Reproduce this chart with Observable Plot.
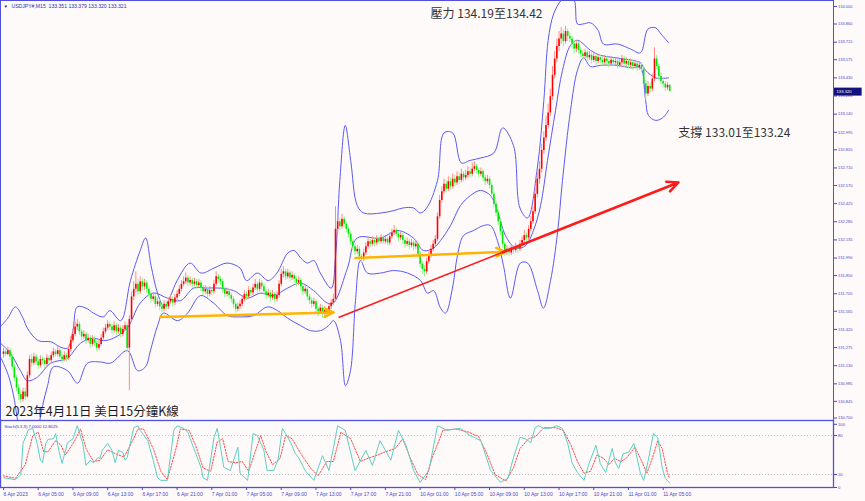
<!DOCTYPE html>
<html><head><meta charset="utf-8">
<script src="https://cdn.jsdelivr.net/npm/d3@7"></script>
<script src="https://cdn.jsdelivr.net/npm/@observablehq/plot@0.6"></script>
<style>
body{margin:0;background:#fffafa}
#chart{position:relative;width:865px;height:501px;background:#fffafa;overflow:hidden}
#chart svg{display:block}
</style></head><body><div id="chart"></div>
<script>
// ---------- DATA ----------
const firstOpen = 131.22;
const closes = [
131.24,131.22,131.25,131.20,131.12,131.03,130.95,130.90,130.86,130.92,
130.88,131.05,131.18,131.15,131.20,131.16,131.13,131.18,131.17,131.14,
131.19,131.17,131.21,131.24,131.22,131.25,131.20,131.18,131.21,131.19,
131.26,131.33,131.38,131.44,131.46,131.40,131.36,131.38,131.33,131.35,
131.30,131.34,131.31,131.27,131.30,131.35,131.40,131.43,131.46,131.44,
131.41,131.45,131.40,131.43,131.38,131.42,131.45,131.27,131.50,131.68,
131.74,131.78,131.72,131.80,131.76,131.79,131.74,131.70,131.66,131.68,
131.62,131.64,131.60,131.58,131.62,131.60,131.64,131.66,131.63,131.67,
131.70,131.74,131.78,131.80,131.83,131.79,131.81,131.78,131.80,131.77,
131.79,131.75,131.72,131.74,131.70,131.73,131.72,131.78,131.84,131.82,
131.80,131.74,131.70,131.72,131.69,131.66,131.62,131.58,131.60,131.62,
131.66,131.70,131.68,131.73,131.71,131.75,131.78,131.74,131.79,131.76,
131.72,131.69,131.71,131.67,131.70,131.66,131.69,131.78,131.86,131.88,
131.84,131.87,131.83,131.85,131.82,131.79,131.81,131.76,131.72,131.74,
131.68,131.65,131.62,131.64,131.58,131.56,131.59,131.54,131.57,131.55,
131.60,131.63,131.66,132.22,132.28,132.24,132.30,132.26,132.22,132.18,
132.12,132.08,132.04,132.06,132.00,131.98,132.03,132.08,132.12,132.10,
132.13,132.11,132.14,132.12,132.15,132.12,132.14,132.11,132.16,132.19,
132.21,132.18,132.15,132.17,132.13,132.10,132.12,132.09,132.11,132.08,
132.10,132.02,131.94,131.90,131.88,131.96,132.01,132.06,132.10,132.14,
132.32,132.45,132.52,132.58,132.54,132.60,132.56,132.62,132.59,132.64,
132.61,132.66,132.63,132.65,132.68,132.66,132.70,132.72,132.69,132.66,
132.68,132.63,132.60,132.62,132.57,132.50,132.42,132.35,132.28,132.20,
132.10,132.04,132.06,132.03,132.07,132.05,132.08,132.06,132.10,132.13,
132.17,132.15,132.22,132.28,132.36,132.50,132.62,132.70,132.85,132.95,
133.05,133.15,133.28,133.45,133.58,133.68,133.74,133.78,133.72,133.80,
133.76,133.74,133.70,133.66,133.70,133.65,133.62,133.60,133.63,133.59,
133.61,133.57,133.60,133.56,133.59,133.57,133.55,133.58,133.56,133.54,
133.57,133.55,133.56,133.53,133.55,133.58,133.54,133.56,133.53,133.55,
133.52,133.54,133.51,133.53,133.50,133.38,133.30,133.36,133.34,133.42,
133.58,133.52,133.44,133.40,133.38,133.35,133.37,133.32];
const highs = [
131.27,131.27,131.28,131.27,131.22,131.14,131.05,130.98,130.93,130.95,
130.95,131.08,131.21,131.22,131.23,131.22,131.19,131.21,131.20,131.19,
131.22,131.21,131.24,131.27,131.26,131.28,131.27,131.22,131.24,131.23,
131.29,131.36,131.42,131.48,131.50,131.48,131.42,131.41,131.40,131.38,
131.37,131.37,131.36,131.33,131.33,131.38,131.43,131.46,131.49,131.48,
131.46,131.48,131.47,131.46,131.45,131.45,131.48,131.47,131.53,131.72,
131.80,131.88,131.82,131.84,131.83,131.82,131.81,131.76,131.72,131.71,
131.70,131.67,131.66,131.62,131.65,131.64,131.67,131.69,131.68,131.70,
131.73,131.77,131.81,131.84,131.87,131.85,131.84,131.83,131.83,131.82,
131.82,131.81,131.77,131.77,131.76,131.76,131.75,131.81,131.88,131.86,
131.84,131.82,131.76,131.75,131.74,131.71,131.68,131.64,131.63,131.65,
131.69,131.73,131.72,131.76,131.75,131.78,131.82,131.80,131.82,131.81,
131.78,131.74,131.74,131.73,131.73,131.72,131.72,131.81,131.90,131.92,
131.90,131.90,131.89,131.88,131.87,131.84,131.84,131.83,131.78,131.77,
131.76,131.70,131.67,131.67,131.66,131.60,131.62,131.61,131.60,131.59,
131.63,131.66,131.70,132.40,132.33,132.31,132.34,132.32,132.28,132.24,
132.20,132.14,132.10,132.09,132.08,132.02,132.06,132.11,132.15,132.14,
132.16,132.15,132.17,132.16,132.18,132.17,132.17,132.16,132.19,132.22,
132.25,132.23,132.20,132.20,132.19,132.15,132.15,132.14,132.14,132.13,
132.13,132.12,132.04,131.96,131.93,131.99,132.04,132.09,132.13,132.17,
132.35,132.49,132.56,132.62,132.61,132.64,132.63,132.66,132.65,132.68,
132.67,132.70,132.68,132.69,132.72,132.71,132.75,132.76,132.74,132.71,
132.71,132.70,132.65,132.65,132.64,132.59,132.52,132.44,132.37,132.30,
132.22,132.12,132.09,132.08,132.10,132.09,132.11,132.10,132.13,132.16,
132.21,132.19,132.25,132.32,132.40,132.55,132.68,132.76,132.90,133.00,
133.12,133.22,133.34,133.52,133.64,133.74,133.80,133.83,133.81,133.84,
133.82,133.79,133.76,133.72,133.73,133.72,133.67,133.65,133.66,133.65,
133.64,133.63,133.63,133.62,133.62,133.61,133.59,133.61,133.60,133.58,
133.60,133.59,133.59,133.58,133.58,133.61,133.60,133.59,133.58,133.58,
133.57,133.57,133.56,133.56,133.55,133.52,133.41,133.40,133.39,133.46,
133.67,133.61,133.54,133.47,133.43,133.40,133.39,133.38];
const lows = [
131.19,131.20,131.21,131.17,131.09,131.00,130.92,130.85,130.83,130.84,
130.85,130.87,131.03,131.12,131.13,131.13,131.10,131.11,131.14,131.11,
131.12,131.15,131.15,131.19,131.20,131.20,131.18,131.15,131.16,131.16,
131.17,131.24,131.31,131.36,131.41,131.37,131.33,131.34,131.30,131.31,
131.27,131.28,131.28,131.24,131.25,131.28,131.33,131.38,131.41,131.41,
131.38,131.39,131.37,131.38,131.35,131.36,131.40,131.24,130.93,131.48,
131.65,131.71,131.69,131.70,131.73,131.73,131.71,131.67,131.63,131.64,
131.59,131.60,131.57,131.55,131.56,131.57,131.58,131.62,131.60,131.61,
131.65,131.68,131.72,131.76,131.78,131.76,131.77,131.75,131.76,131.74,
131.75,131.72,131.69,131.70,131.67,131.68,131.69,131.70,131.76,131.79,
131.77,131.71,131.67,131.68,131.66,131.63,131.59,131.55,131.56,131.58,
131.60,131.64,131.65,131.66,131.68,131.69,131.73,131.71,131.72,131.73,
131.69,131.66,131.67,131.64,131.65,131.63,131.64,131.67,131.76,131.83,
131.81,131.82,131.80,131.81,131.79,131.76,131.77,131.73,131.69,131.70,
131.65,131.62,131.59,131.60,131.55,131.52,131.54,131.51,131.52,131.52,
131.53,131.58,131.61,131.64,132.18,132.21,132.22,132.23,132.19,132.15,
132.09,132.05,132.01,132.02,131.97,131.95,131.96,132.01,132.06,132.07,
132.08,132.08,132.09,132.10,132.10,132.10,132.10,132.09,132.09,132.14,
132.17,132.16,132.12,132.13,132.10,132.07,132.08,132.06,132.07,132.05,
132.06,131.99,131.91,131.86,131.84,131.86,131.94,131.99,132.04,132.08,
132.12,132.30,132.43,132.50,132.51,132.52,132.53,132.54,132.56,132.57,
132.58,132.59,132.60,132.61,132.63,132.63,132.64,132.68,132.66,132.63,
132.64,132.60,132.57,132.58,132.54,132.47,132.39,132.32,132.25,132.17,
132.07,132.00,132.01,132.00,132.01,132.02,132.03,132.03,132.04,132.08,
132.11,132.12,132.13,132.20,132.26,132.34,132.47,132.58,132.67,132.82,
132.92,133.02,133.12,133.25,133.42,133.55,133.64,133.70,133.68,133.70,
133.72,133.71,133.66,133.62,133.63,133.62,133.59,133.57,133.58,133.56,
133.57,133.54,133.55,133.53,133.54,133.54,133.52,133.53,133.53,133.51,
133.52,133.52,133.53,133.50,133.51,133.53,133.51,133.52,133.50,133.51,
133.49,133.50,133.48,133.49,133.47,133.34,133.25,133.28,133.31,133.32,
133.40,133.49,133.41,133.37,133.35,133.32,133.33,133.32];

// Bollinger-type band lines: [bar, price]
const upperBand = [[-1,131.45],[2,131.51],[5.5,131.60],[9,131.51],[11,131.43],[16,131.33],[22,131.32],[26,131.28],[29.5,131.27],[32,131.41],[34,131.60],[38,131.59],[41.5,131.55],[46,131.52],[49,131.57],[54,131.49],[58.5,131.81],[63,132.05],[65.5,132.15],[68,131.93],[71,131.71],[74,131.60],[77,131.69],[80,131.81],[86,131.95],[91,131.87],[97,131.91],[103,131.95],[109,131.91],[112,131.81],[117,131.87],[122,131.81],[126,131.87],[131,132.03],[134,132.05],[137,131.99],[140,131.95],[143,131.97],[146,131.87],[151,131.75],[153,132.00],[155,132.61],[157.5,133.05],[160,132.77],[163,132.41],[166,132.35],[174,132.35],[180,132.37],[184,132.39],[189,132.39],[192,132.35],[195,132.39],[200,132.61],[203,132.99],[207,132.99],[211,132.75],[215,132.77],[220,132.79],[226,132.83],[230,133.03],[235,132.89],[238,132.39],[241.5,132.31],[246,132.71],[249,133.25],[251,133.73],[253.5,133.94],[257,134.05],[260,134.09],[263,134.05],[264.5,133.86],[267,133.86],[270.5,133.87],[274,133.81],[276.5,133.70],[283,133.70],[289,133.66],[293.5,133.63],[297,133.82],[300.5,133.83],[303,133.78],[306.5,133.71]];
const middleBand = [[-1.4,131.31],[3.2,131.23],[7.8,131.09],[11,131.01],[15.7,131.04],[21.7,131.15],[29.5,131.19],[35.5,131.31],[41.5,131.35],[46,131.33],[50.7,131.35],[57,131.43],[63,131.63],[69,131.71],[75.6,131.67],[81.6,131.65],[87.6,131.75],[94,131.75],[100,131.75],[106,131.73],[112.4,131.67],[118.4,131.71],[124.4,131.69],[130.9,131.75],[136.9,131.79],[142.9,131.73],[149.3,131.63],[152,131.63],[158.5,131.91],[163,132.15],[173.7,132.15],[181.6,132.21],[188.9,132.15],[193.5,132.05],[198.2,132.07],[201.4,132.13],[206,132.25],[210.6,132.41],[215.2,132.49],[219.8,132.53],[224.4,132.49],[227.6,132.37],[231.3,132.17],[236,132.07],[240.6,132.09],[244.2,132.21],[247.5,132.41],[250.7,132.77],[254.4,133.17],[257.6,133.49],[261.3,133.69],[264.5,133.73],[270.5,133.65],[275.1,133.61],[284.3,133.585],[293.5,133.55],[295.9,133.49],[300.5,133.43],[306.5,133.43]];
const lowerBand = [[-1.4,131.20],[2.3,131.05],[5.1,130.85],[6.5,130.69],[8.8,130.53],[12.4,130.49],[16.1,130.65],[18,130.81],[20.3,130.97],[23,131.12],[29.5,131.09],[34.1,130.99],[38.7,131.15],[44.7,131.16],[49.3,131.15],[57.1,131.25],[61.8,131.09],[65.4,131.12],[67.7,131.25],[71,131.45],[73.7,131.55],[80.2,131.49],[84.8,131.55],[90.8,131.69],[96.8,131.63],[103.2,131.53],[109.2,131.52],[115.2,131.53],[121.7,131.60],[126.3,131.57],[130.9,131.51],[136.9,131.45],[141.5,131.41],[146.1,131.41],[149.8,131.45],[152.1,131.49],[155.3,131.33],[157.6,130.97],[159.9,131.09],[162.2,131.65],[164.5,131.97],[167.7,131.87],[173.7,131.87],[179.7,131.89],[186.2,131.87],[192.2,131.81],[195.4,131.71],[198.2,131.73],[201.4,131.59],[203.7,131.55],[206.9,131.75],[209.2,132.01],[212,132.17],[216.6,132.21],[221.2,132.25],[224.4,132.25],[227.6,132.13],[230.4,131.93],[233.6,131.67],[238.2,131.95],[241.5,131.95],[246.1,131.73],[248.8,131.59],[252.1,131.81],[255.3,132.19],[257.6,132.61],[261.3,133.17],[264.5,133.49],[267.3,133.59],[270.5,133.52],[275.1,133.53],[283,133.53],[288.9,133.51],[293.5,133.51],[295.9,133.25],[297.2,133.13],[300.5,133.09],[303.7,133.11],[306.5,133.17]];

// Stochastic (5,3,3): [bar, value]
const stochMain = [[0,15],[2,14],[5.5,12],[8,20],[9,68],[11.5,89],[13.5,91],[15.5,68],[17,42],[18,38],[19.5,68],[20.5,74],[23,75],[24,83],[25.5,57],[27,37],[29.5,69],[32,75],[34,95],[36.5,68],[38,34],[40,42],[41.5,38],[43.5,46],[44.5,45],[45.5,57],[48,68],[50,57],[51.5,38],[53,57],[55,54],[56,42],[57,46],[60,92],[62,95],[63,88],[66.5,72],[69,42],[71,15],[72.5,11],[75.5,11],[78.5,88],[80,95],[83,91],[85,85],[87.5,62],[91,31],[92,15],[94,11],[97,77],[98.5,91],[100,62],[101.5,31],[104.5,26],[108,62],[109,22],[112.5,11],[115,83],[117,80],[120,57],[121.5,26],[124.5,26],[126.5,42],[128.5,91],[130,83],[132.5,68],[134.5,52],[136,46],[139,26],[143,11],[147,49],[150,26],[154,95],[157.5,88],[162,26],[167,57],[170,34],[173.5,72],[178.5,42],[182,88],[185.5,65],[189,26],[192,8],[196,26],[200,95],[204.5,88],[210.5,91],[215,80],[220,72],[224.5,26],[229,8],[232.5,14],[235,46],[238,77],[240.5,75],[243,69],[245,92],[246.5,95],[249,91],[252,91],[255,95],[257.5,91],[260,68],[262,38],[264.5,23],[267.5,11],[269.5,34],[273,65],[275,37],[277.5,23],[280.5,60],[282,38],[283.5,29],[285.5,52],[288,54],[290.5,68],[293.5,22],[295,11],[297,40],[299.5,83],[301.5,77],[303.5,31],[305,14],[307,7]];
const stochSignal = [[0,18],[5.5,14],[10,35],[13.5,80],[16,85],[18.5,55],[20.5,55],[24,72],[26.5,65],[28.5,50],[32.5,70],[35.5,90],[38,60],[41.5,40],[44.5,42],[48,58],[51.5,52],[55.5,47],[58.5,65],[62,90],[64.5,90],[69,60],[72.5,25],[75.5,12],[79.5,60],[81.5,90],[85.5,88],[88.5,65],[92,30],[95.5,25],[98.5,70],[101,75],[103.5,40],[107,38],[110,40],[113,25],[116,55],[118.5,80],[121,55],[124,35],[127.5,45],[130,80],[133,75],[137,52],[141.5,30],[145,18],[149,40],[152,40],[155.5,85],[160,75],[164.5,40],[168,45],[172.5,50],[176,55],[180.5,60],[184,75],[187.5,45],[191,20],[194.5,12],[197.5,45],[202.5,88],[208.5,90],[214.5,85],[219,78],[223,50],[226.5,20],[231.5,10],[235,30],[238,60],[242,75],[245,78],[249,92],[254.5,92],[258,88],[261.5,65],[264.5,40],[267.5,22],[270.5,25],[273.5,50],[276.5,45],[279,35],[281.5,45],[284.5,40],[287,45],[291,62],[293.5,45],[296.5,22],[299,45],[301.5,72],[303.5,60],[306,22],[307,13.8]];

// Axis tick values / labels
const yTicks = [134.000,133.860,133.715,133.575,133.430,133.285,133.140,132.995,132.855,132.710,132.570,132.425,132.280,132.135,131.990,131.850,131.705,131.565,131.420,131.275,131.130,130.985,130.845,130.700];
const stochTicks = [0,20,80];
const stochTopTick = [100];
const xTickBars = [0,16,32,48,64,80,96,112,128,144,160,176,192,208,224,240,256,272,288,304];
const xLabels = ["6 Apr 2023","6 Apr 05:00","6 Apr 09:00","6 Apr 13:00","6 Apr 17:00","6 Apr 21:00","7 Apr 01:00","7 Apr 05:00","7 Apr 09:00","7 Apr 13:00","7 Apr 17:00","7 Apr 21:00","10 Apr 01:00","10 Apr 05:00","10 Apr 09:00","10 Apr 13:00","10 Apr 17:00","10 Apr 21:00","11 Apr 01:00","11 Apr 05:00"];

// Drawn support lines (orange arrows) and trend line (red): bar/price endpoints
const supportFromBar = [72.3, 162.2];
const supportFromPrice = [131.52, 131.99];
const supportToBar = [152.1, 231.3];
const supportToPrice = [131.555, 132.04];
const trendBars = [154.4, 232, 311];
const trendPrices = [131.515, 132.05, 132.594];

// Text annotations
const noteTexts = ["壓力 134.19至134.42", "支撐 133.01至133.24"];
const noteBars = [196.8, 311];
const notePrices = [133.936, 132.985];
const titleText = "2023年4月11日 美日15分鐘K線";
const titleBar = 0.9, titlePrice = 130.756;
const headerText = "USDJPY#,M15  133.351 133.379 133.320 133.321";
const stochText = "Stoch(5,3,3) 7.0000 12.8025";

// ---------- BUILD ----------
const bars = closes.map((c, i) => {
  const o = i === 0 ? firstOpen : closes[i - 1];
  return {i, o, h: highs[i], l: lows[i], c, up: c >= o};
});
const upBars = bars.filter(d => d.up), downBars = bars.filter(d => !d.up);
const lastClose = closes[closes.length - 1];
const xDom = [-3 / 2.17, 830 / 2.17];
const axisColor = "#4646cc";
const bandColor = "#5a5af2";
const font = "'Liberation Sans', Arial, sans-serif";
const cjk = "'Noto Sans CJK TC', 'Noto Sans CJK SC', sans-serif";
const supports = supportFromBar.map((b, k) => ({x1: b, y1: supportFromPrice[k], x2: supportToBar[k], y2: supportToPrice[k]}));
const notes = noteTexts.map((t, k) => ({t, x: noteBars[k], y: notePrices[k]}));

const main = Plot.plot({
  width: 865, height: 420,
  marginTop: 0, marginBottom: 0, marginLeft: 0, marginRight: 32,
  style: {background: "transparent", fontFamily: font, overflow: "visible"},
  x: {domain: xDom, axis: null},
  y: {domain: [130.692, 134.048], axis: null},
  marks: [
    Plot.axisY({anchor: "right", ticks: yTicks.slice(0, -1), tickFormat: d => d.toFixed(3), tickSize: 3, tickPadding: 1.5, fontSize: 4, color: axisColor}),
    Plot.axisY({anchor: "right", ticks: yTicks.slice(-1), tickFormat: d => d.toFixed(3), tickSize: 3, tickPadding: 1.5, fontSize: 4, dy: -1.5, color: axisColor}),
    Plot.line(upperBand, {x: d => d[0], y: d => d[1], stroke: bandColor, strokeWidth: 1, curve: "catmull-rom", clip: true}),
    Plot.line(middleBand, {x: d => d[0], y: d => d[1], stroke: bandColor, strokeWidth: 1, curve: "catmull-rom", clip: true}),
    Plot.line(lowerBand, {x: d => d[0], y: d => d[1], stroke: bandColor, strokeWidth: 1, curve: "catmull-rom", clip: true}),
    Plot.ruleX(upBars, {x: "i", y1: "l", y2: "h", stroke: "#ff8a8a", strokeWidth: 1}),
    Plot.ruleX(downBars, {x: "i", y1: "l", y2: "h", stroke: "#8cf58c", strokeWidth: 1}),
    Plot.ruleX(upBars, {x: "i", y1: "o", y2: "c", stroke: "#ff0000", strokeWidth: 1.6}),
    Plot.ruleX(downBars, {x: "i", y1: "o", y2: "c", stroke: "#00e600", strokeWidth: 1.6}),
    Plot.arrow(supports, {x1: "x1", y1: "y1", x2: "x2", y2: "y2", stroke: "#ffb400", strokeWidth: 2.5, headLength: 6, headAngle: 50}),
    Plot.link([0], {x1: () => trendBars[0], y1: () => trendPrices[0], x2: () => trendBars[1], y2: () => trendPrices[1], stroke: "#ff1a1a", strokeWidth: 1.5}),
    Plot.arrow([0], {x1: () => trendBars[1] - 2, y1: () => trendPrices[1] - 0.014, x2: () => trendBars[2], y2: () => trendPrices[2], stroke: "#ff1a1a", strokeWidth: 2.6, headLength: 7, headAngle: 50}),
    Plot.text(notes, {x: "x", y: "y", text: "t", textAnchor: "start", lineAnchor: "middle", fontSize: 12, fill: "#333333", fontFamily: cjk}),
    Plot.text([titleText], {x: () => titleBar, y: () => titlePrice, text: d => d, textAnchor: "start", lineAnchor: "middle", fontSize: 12.5, fill: "#1e1e1e", fontFamily: cjk}),
    Plot.text(["▼"], {frameAnchor: "top-left", dx: 3, dy: 4, fontSize: 4.5, fill: "#20208c"}),
    Plot.text([headerText], {frameAnchor: "top-left", dx: 11, dy: 4, fontSize: 5.1, fill: "#3030b8", textAnchor: "start"}),
    Plot.ruleY([lastClose], {x1: () => xDom[1] + 0.3, x2: () => xDom[1] + 13.2, stroke: "#12127e", strokeWidth: 8}),
    Plot.text([lastClose], {x: () => xDom[1], y: d => d, text: d => d.toFixed(3), dx: 3, textAnchor: "start", fontSize: 4.2, fill: "white"}),
    Plot.frame({stroke: "#5050d8", strokeWidth: 1})
  ]
});

const stoch = Plot.plot({
  width: 865, height: 81,
  marginTop: 2, marginBottom: 14, marginLeft: 0, marginRight: 32,
  style: {background: "transparent", fontFamily: font, overflow: "visible"},
  x: {domain: xDom, axis: null},
  y: {domain: [0, 100], axis: null},
  marks: [
    Plot.ruleY([20, 80], {stroke: "#b4b4b4", strokeDasharray: "1,2", strokeWidth: 0.8}),
    Plot.line(stochSignal, {x: d => d[0], y: d => d[1], stroke: "#ff4a4a", strokeWidth: 1, strokeDasharray: "1.5,1.5"}),
    Plot.line(stochMain, {x: d => d[0], y: d => d[1], stroke: "#5ccfc2", strokeWidth: 1}),
    Plot.axisY({anchor: "right", ticks: stochTicks, tickSize: 3, tickPadding: 1.5, fontSize: 4.2, color: axisColor}),
    Plot.axisY({anchor: "right", ticks: stochTopTick, tickSize: 3, tickPadding: 1.5, fontSize: 4.2, dy: 1.8, color: axisColor}),
    Plot.axisX({ticks: xTickBars, tickFormat: d => xLabels[xTickBars.indexOf(d)], tickSize: 3, tickPadding: 1.5, fontSize: 5, textAnchor: "start", color: axisColor}),
    Plot.text([stochText], {frameAnchor: "top-left", dx: 4, dy: 3, fontSize: 4.2, fill: "#3030b8", textAnchor: "start"}),
    Plot.frame({stroke: "#5050d8", strokeWidth: 1.3, insetTop: -2})
  ]
});

document.getElementById("chart").append(main, stoch);
</script></body></html>
